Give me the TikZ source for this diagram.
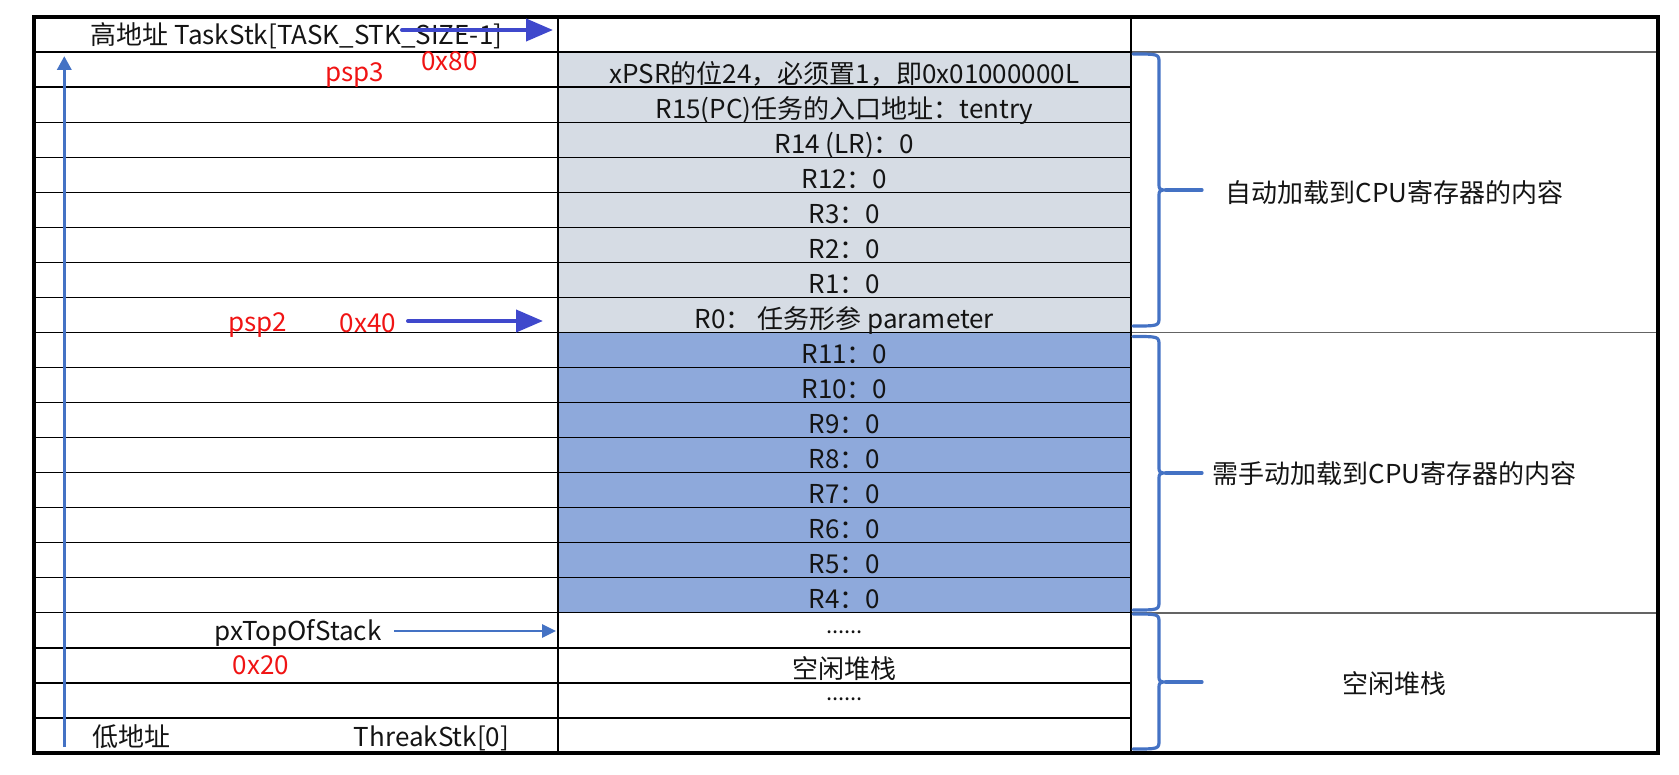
\documentclass[tikz,border=0pt]{standalone}
\usepackage{fontspec}
\setmainfont{Noto Sans CJK SC}
\usetikzlibrary{arrows.meta}
\definecolor{lightfill}{RGB}{214,220,228}
\definecolor{darkfill}{RGB}{142,169,219}
\definecolor{accent}{RGB}{68,114,196}
\definecolor{indigoarrow}{RGB}{63,72,204}
\definecolor{redtxt}{RGB}{240,20,20}
\definecolor{gridthree}{RGB}{100,100,100}
\definecolor{txtcol}{RGB}{20,20,20}
\newcommand{\stackbrace}[3]{%
  \draw[bracestyle] (1133,#1) .. controls (1159,#1) .. (1159,{#1+9}) -- (1159,{#3-7})
     .. controls (1159,#3) .. (1168,#3) .. controls (1159,#3) .. (1159,{#3+7})
     -- (1159,{#2-9}) .. controls (1159,#2) .. (1133,#2);
  \draw[bracestyle] (1166,#3) -- (1202,#3);}
\tikzset{
  gridline/.style={draw=black, line width=0.6pt},
  gridline3/.style={draw=gridthree, line width=0.8pt},
  frame/.style={draw=black, line width=1.8pt},
  txt/.style={inner sep=0pt, anchor=base, text=txtcol},
  redlbl/.style={inner sep=0pt, anchor=base, text=redtxt},
  darkarrow/.style={draw=indigoarrow, line width=2pt, line cap=round,
     -{Triangle[length=13.5pt,width=11pt]}},
  lightarrow/.style={draw=accent, line width=1.3pt,
     -{Triangle[length=7pt,width=6.5pt]}},
  vertarrow/.style={draw=accent, line width=1.8pt,
     -{Triangle[length=7pt,width=7pt]}},
  bracestyle/.style={draw=accent, line width=1.6pt, line cap=round, line join=round},
}
\begin{document}
\begin{tikzpicture}[x=0.5pt,y=-0.5pt,font=\fontsize{13}{15}\selectfont]
\useasboundingbox (0,0) rectangle (1679,775);
% fills
\fill[lightfill] (558,52.05) rectangle (1131,332.45);
\fill[darkfill] (558,332.45) rectangle (1131,612.85);
% grid
\foreach \k in {1,...,20}
  \draw[gridline] (34,{17+35.05*\k}) -- (1131,{17+35.05*\k});
\foreach \k in {1,9,17}
  \draw[gridline3] (1131,{17+35.05*\k}) -- (1658,{17+35.05*\k});
\draw[gridline] (558,17) -- (558,753);
\draw[gridline] (1131,17) -- (1131,753);
\draw[frame] (34,17) rectangle (1658,753);
% column 2 texts
\foreach \i/\t in {
  1/{xPSR的位24，必须置1，即0x01000000L},
  2/{R15(PC)任务的入口地址：tentry},
  3/{R14 (LR)：0},
  4/{R12：0},
  5/{R3：0},
  6/{R2：0},
  7/{R1：0},
  8/{R0： 任务形参 parameter},
  9/{R11：0},
  10/{R10：0},
  11/{R9：0},
  12/{R8：0},
  13/{R7：0},
  14/{R6：0},
  15/{R5：0},
  16/{R4：0},
  18/{空闲堆栈}}
  \node[txt] (r\i) at (844.5,{17+35.05*(\i+1)-4}) {\t};
\node[txt] (r17) at (844.5,633.5) {\fontsize{11}{13}\selectfont ......};
\node[txt] (r19) at (844.5,700.5) {\fontsize{11}{13}\selectfont ......};
% column 3 labels
\node[txt] (auto) at (1394.5,203) {自动加载到CPU寄存器的内容};
\node[txt] (manual) at (1394.5,483) {需手动加载到CPU寄存器的内容};
\node[txt] (free) at (1394.5,693) {空闲堆栈};
% braces
\stackbrace{54}{326}{190}
\stackbrace{336.5}{610}{473}
\stackbrace{614}{749}{682}
% column 1 texts
\node[txt] (hi) at (296.5,45) {高地址 TaskStk[TASK\_STK\_SIZE-1]};
\node[redlbl] (psp3) at (355,81.7) {psp3};
\node[redlbl] (h80) at (449.5,71) {0x80};
\node[redlbl] (psp2) at (258,331) {psp2};
\node[redlbl] (h40) at (368,332) {0x40};
\node[txt] (ptos) at (298,640) {pxTopOfStack};
\node[redlbl] (h20) at (261,674) {0x20};
\node[txt] (lo) at (131.5,746) {低地址};
\node[txt] (ts0) at (431.5,746) {ThreakStk[0]};
% arrows
\coordinate (a1s) at (402,30);
\coordinate (a1e) at (553,30);
\coordinate (a2s) at (408,321);
\coordinate (a2e) at (543,321);
\coordinate (a3s) at (394,631);
\coordinate (a3e) at (556,631);
\coordinate (a4s) at (64.3,747);
\coordinate (a4e) at (64.3,56);
\draw[vertarrow] (a4s) -- (a4e);
\draw[darkarrow] (a1s) -- (a1e);
\draw[darkarrow] (a2s) -- (a2e);
\draw[lightarrow] (a3s) -- (a3e);
\end{tikzpicture}
\end{document}
